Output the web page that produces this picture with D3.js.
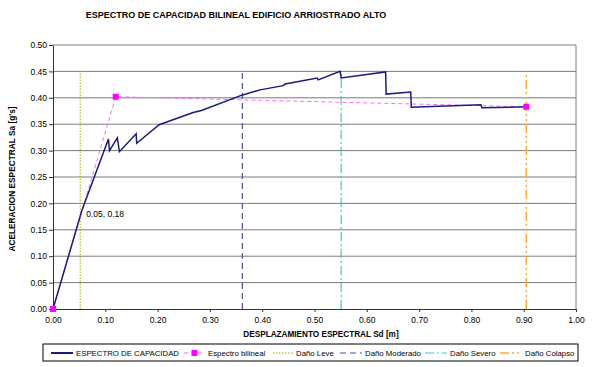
<!DOCTYPE html>
<html lang='en'>
<head>
    <meta charset='UTF-8'>
    <title>Espectro de capacidad bilineal</title>
    <style>
        body { margin: 0; background: #fff; }
        svg text { font-family: 'Liberation Sans', Arial, sans-serif; fill: #000; }
    </style>
</head>
<body>
<div id="chart-area"></div>
<script src='https://d3js.org/d3.v7.min.js'></script>
<script>

    // capacity curve (Sd [m], Sa [g])
    const capSd = [0, 0.055, 0.106, 0.108, 0.123, 0.127, 0.159, 0.160, 0.203, 0.268, 0.284, 0.361, 0.396, 0.440, 0.444, 0.505, 0.507, 0.549, 0.551, 0.636, 0.637, 0.684, 0.685, 0.818, 0.820, 0.905];
    const capSa = [0, 0.186, 0.322, 0.300, 0.324, 0.298, 0.332, 0.314, 0.349, 0.372, 0.376, 0.405, 0.415, 0.423, 0.426, 0.4375, 0.434, 0.450, 0.4375, 0.449, 0.407, 0.411, 0.382, 0.387, 0.381, 0.383];

    // bilinear
    const bilSd = [0, 0.120, 0.905];
    const bilSa = [0, 0.402, 0.383];

    // damage states
    const damageNames = ['Daño Leve', 'Daño Moderado', 'Daño Severo', 'Daño Colapso'];
    const damageSd = [0.052, 0.362, 0.551, 0.905];
    const damageTop = 0.45;

    const xTicks = [0, 0.1, 0.2, 0.3, 0.4, 0.5, 0.6, 0.7, 0.8, 0.9, 1.0];
    const yTicks = [0, 0.05, 0.10, 0.15, 0.20, 0.25, 0.30, 0.35, 0.40, 0.45, 0.50];

    const outerWidth = 600;
    const outerHeight = 367;
    const margin = {top: 45, right: 24, bottom: 58, left: 53};
    const width = outerWidth - margin.left - margin.right;
    const height = outerHeight - margin.top - margin.bottom;

    const svg = d3.select('#chart-area').append('svg')
        .attr('width', outerWidth)
        .attr('height', outerHeight);

    svg.append('text')
        .attr('x', 236)
        .attr('y', 18)
        .attr('text-anchor', 'middle')
        .style('font-size', '9px')
        .style('font-weight', 'bold')
        .text('ESPECTRO DE CAPACIDAD BILINEAL EDIFICIO ARRIOSTRADO ALTO');

    const g = svg.append('g')
        .attr('transform', `translate(${margin.left}, ${margin.top})`);

    const xScale = d3.scaleLinear().domain([0, 1]).range([0, width]);
    const yScale = d3.scaleLinear().domain([0, 0.5]).range([height, 0]);

    // gridlines
    g.append('g')
        .selectAll('line')
        .data(yTicks.slice(1))
        .enter().append('line')
        .attr('x1', 0)
        .attr('x2', width)
        .attr('y1', d => yScale(d))
        .attr('y2', d => yScale(d))
        .attr('stroke', '#7a7a7a')
        .attr('stroke-width', 1);

    g.append('line')
        .attr('x1', width).attr('x2', width)
        .attr('y1', 0).attr('y2', height)
        .attr('stroke', '#808080');

    const xAxis = d3.axisBottom(xScale).tickValues(xTicks).tickFormat(d3.format('.2f')).tickSize(3).tickSizeOuter(0);
    const yAxis = d3.axisLeft(yScale).tickValues(yTicks).tickFormat(d3.format('.2f')).tickSize(4).tickSizeOuter(0);

    const gx = g.append('g')
        .attr('transform', `translate(0, ${height})`)
        .call(xAxis);
    const gy = g.append('g').call(yAxis);

    [gx, gy].forEach(a => {
        a.select('.domain').attr('stroke', '#333');
        a.selectAll('.tick line').attr('stroke', '#333');
        a.selectAll('.tick text')
            .style('font-size', '8.5px')
            .style('font-family', "'Liberation Sans', Arial, sans-serif")
            .attr('fill', '#000');
    });
    gx.selectAll('.tick text').attr('dy', '0.9em');
    gy.selectAll('.tick text').attr('x', -6);

    // axis titles
    svg.append('text')
        .attr('x', 321)
        .attr('y', 337)
        .attr('text-anchor', 'middle')
        .style('font-size', '8.2px')
        .style('font-weight', 'bold')
        .text('DESPLAZAMIENTO ESPECTRAL  Sd [m]');

    svg.append('text')
        .attr('transform', 'translate(15, 179) rotate(-90)')
        .attr('text-anchor', 'middle')
        .style('font-size', '8.3px')
        .style('font-weight', 'bold')
        .text("ACELERACION  ESPECTRAL  Sa [g's]");

    // damage lines
    const damageColor = ['#a8a800', '#4d4d99', '#33cccc', '#ffaa33'];
    const damageDash = ['1.5,1.5', '6,4', '9,3,2,3', '9,3,2,3,2,3'];
    const damageWidth = [1, 1.2, 1.2, 1.5];

    g.append('g')
        .selectAll('line')
        .data(damageSd)
        .enter().append('line')
        .attr('x1', d => xScale(d))
        .attr('x2', d => xScale(d))
        .attr('y1', yScale(0))
        .attr('y2', yScale(damageTop))
        .attr('stroke', (d, i) => damageColor[i])
        .attr('stroke-width', (d, i) => damageWidth[i])
        .attr('stroke-dasharray', (d, i) => damageDash[i]);

    const line = d3.line()
        .x(d => xScale(d[0]))
        .y(d => yScale(d[1]));

    const bilData = bilSd.map((d, i) => [d, bilSa[i]]);
    const capData = capSd.map((d, i) => [d, capSa[i]]);

    g.append('path')
        .datum(bilData)
        .attr('d', line)
        .attr('fill', 'none')
        .attr('stroke', '#ff66ff')
        .attr('stroke-width', 1)
        .attr('stroke-dasharray', '4,3');

    g.append('path')
        .datum(capData)
        .attr('d', line)
        .attr('fill', 'none')
        .attr('stroke', '#1a1a80')
        .attr('stroke-width', 1.5);

    g.append('g')
        .selectAll('rect')
        .data(bilData)
        .enter().append('rect')
        .attr('x', d => xScale(d[0]) - 3)
        .attr('y', d => yScale(d[1]) - 3)
        .attr('width', 6)
        .attr('height', 6)
        .attr('fill', '#ff00ff');

    // annotation
    g.append('text')
        .attr('x', xScale(damageSd[0]) + 6)
        .attr('y', yScale(0.18) + 3)
        .style('font-size', '8.5px')
        .text('0.05, 0.18');

    // legend
    const legend = svg.append('g');
    legend.append('rect')
        .attr('x', 43).attr('y', 344)
        .attr('width', 535).attr('height', 17)
        .attr('fill', '#fff')
        .attr('stroke', '#000')
        .attr('stroke-width', 1);

    const legendNames = ['ESPECTRO DE CAPACIDAD', 'Espectro bilineal'].concat(damageNames);
    const legendX = [51, 184, 273, 340, 425, 500];
    const legendColor = ['#1a1a80', '#ff66ff'].concat(damageColor);
    const legendDash = [null, '4,3'].concat(damageDash);
    const legendWidth = [2, 1].concat(damageWidth);
    const sampleLen = [22, 21, 20, 22, 22, 22];

    legendNames.forEach((name, i) => {
        const y = 353;
        legend.append('line')
            .attr('x1', legendX[i]).attr('x2', legendX[i] + sampleLen[i])
            .attr('y1', y).attr('y2', y)
            .attr('stroke', legendColor[i])
            .attr('stroke-width', legendWidth[i])
            .attr('stroke-dasharray', legendDash[i]);
        if (i === 1) {
            legend.append('rect')
                .attr('x', legendX[i] + sampleLen[i] / 2 - 3)
                .attr('y', y - 3)
                .attr('width', 6).attr('height', 6)
                .attr('fill', '#ff00ff');
        }
        legend.append('text')
            .attr('x', legendX[i] + sampleLen[i] + 3)
            .attr('y', y + 3)
            .style('font-size', '7.8px')
            .text(name);
    });
</script>
</body>
</html>
